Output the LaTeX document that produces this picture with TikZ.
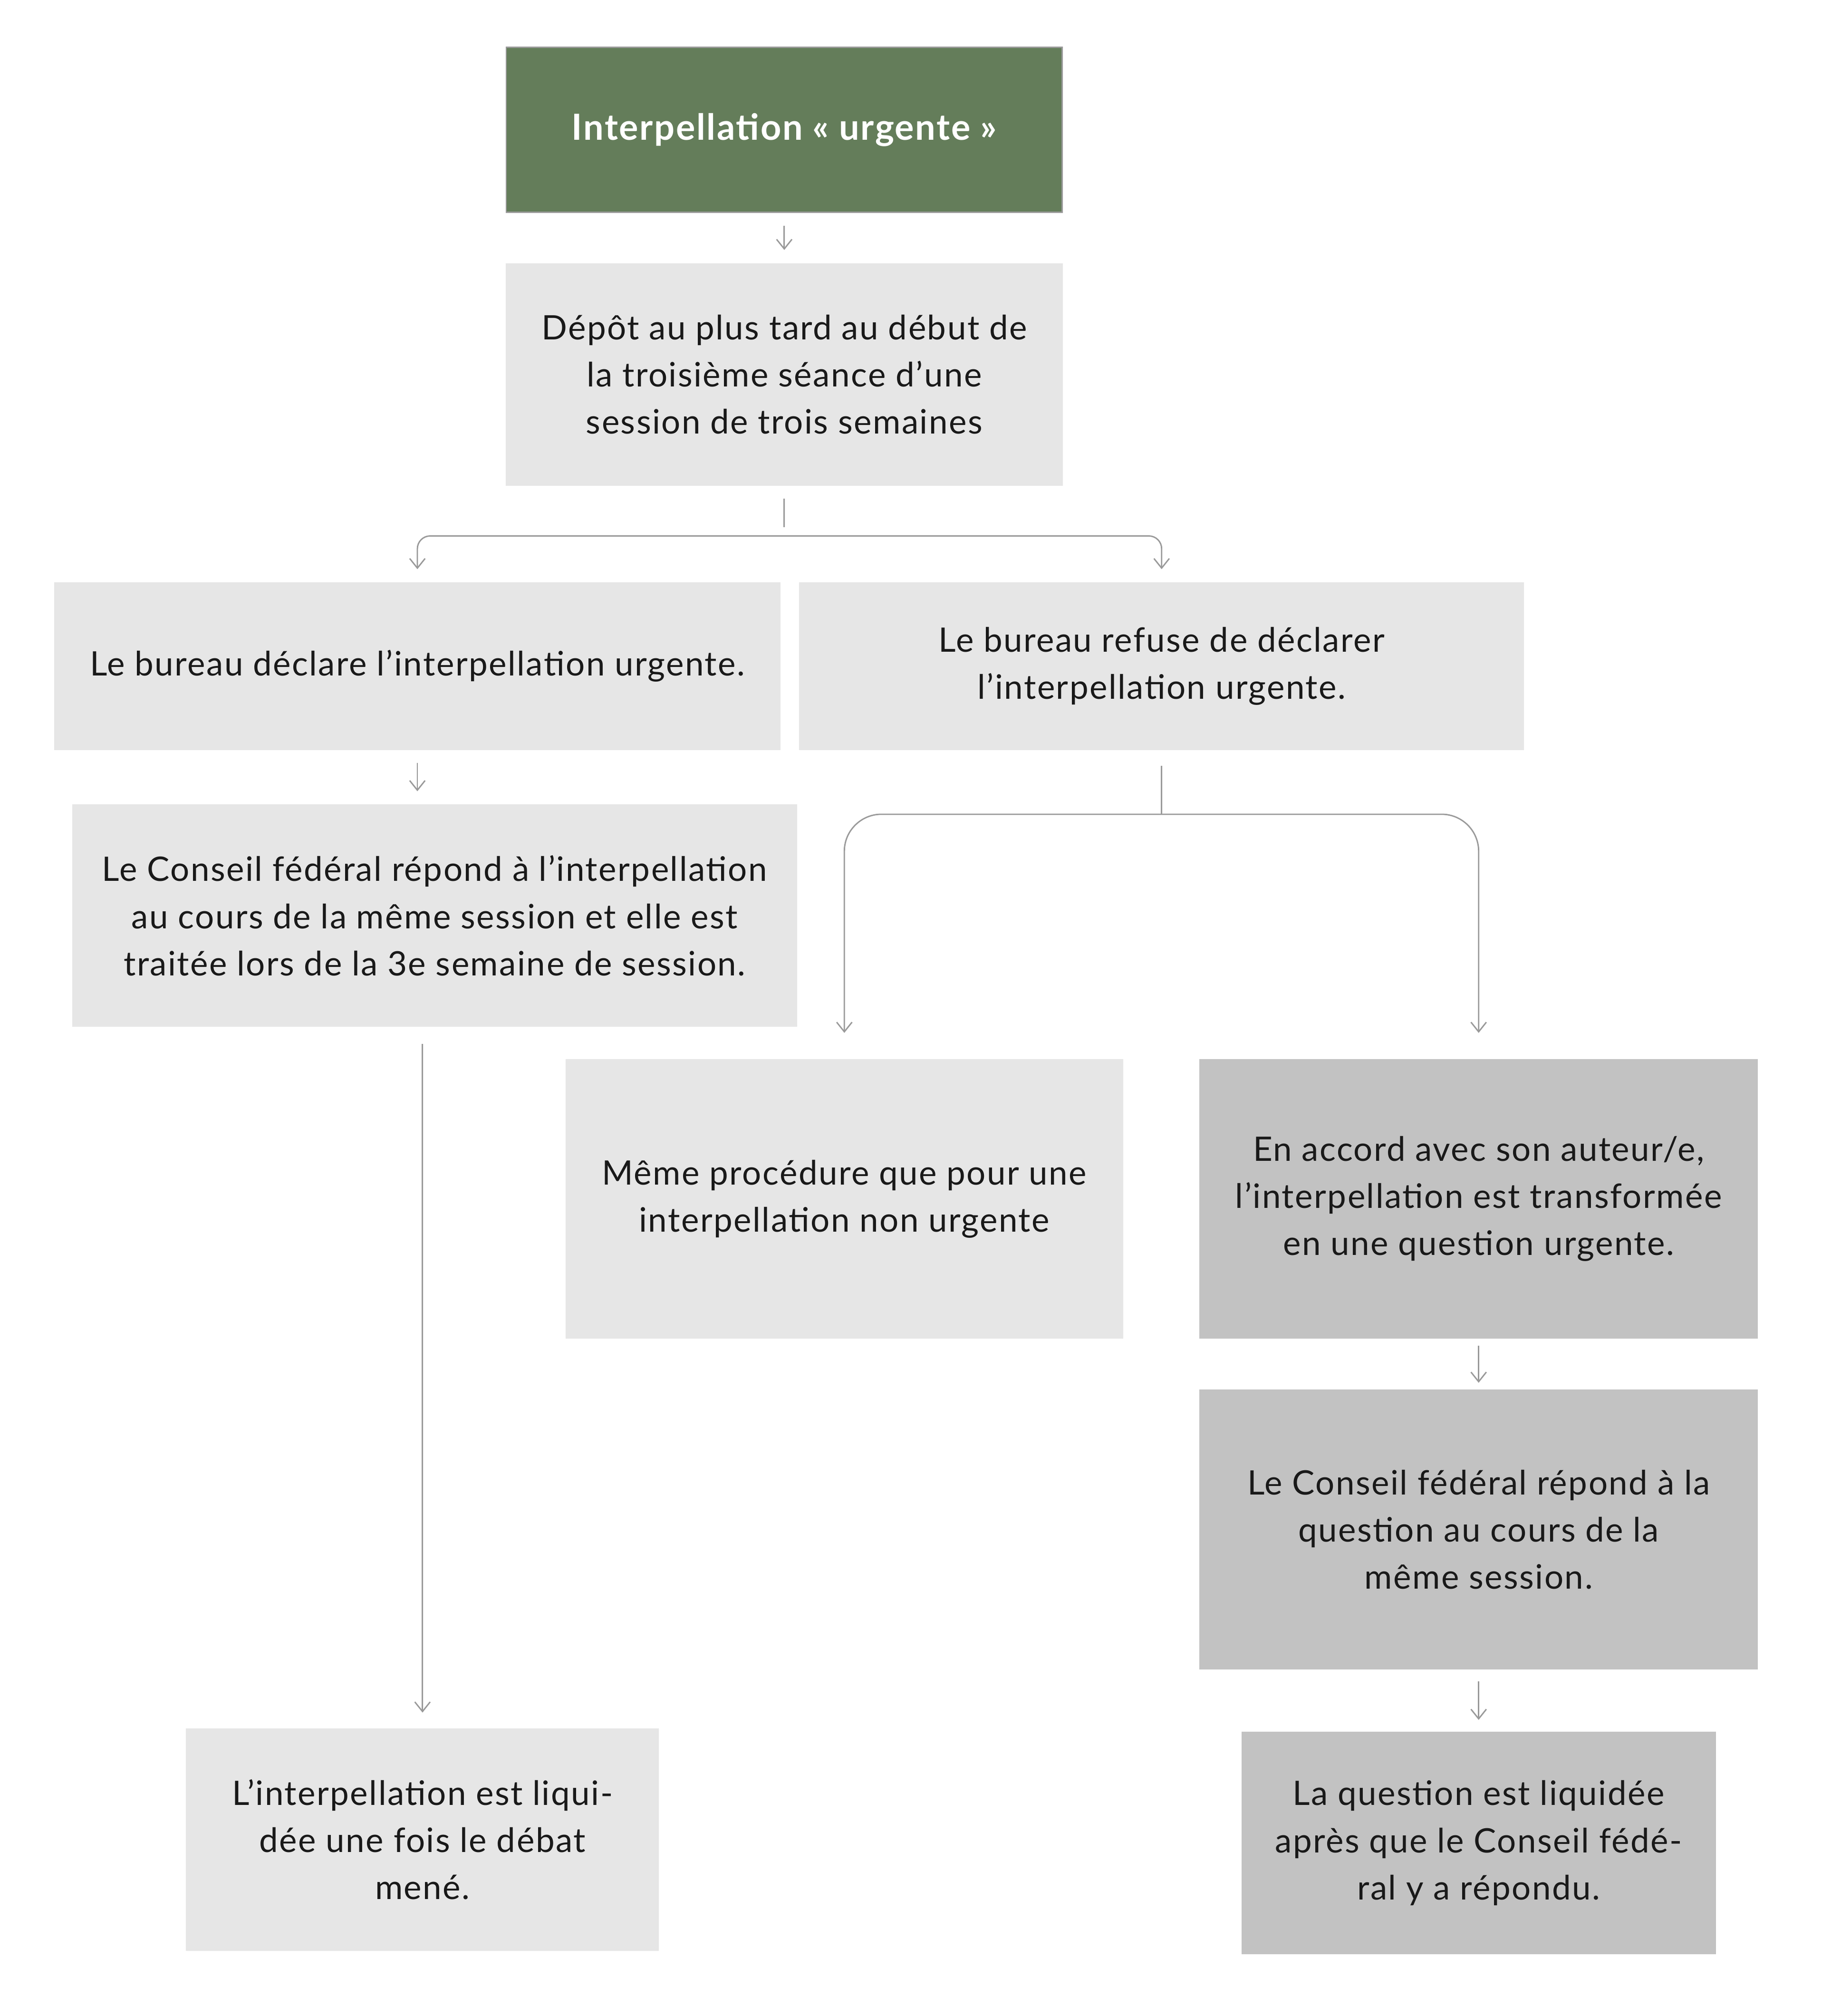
\documentclass[tikz,border=0pt]{standalone}
\usepackage{fontspec}
\setmainfont{Lato}[LetterSpace=3.5]
\usetikzlibrary{positioning,arrows.meta}
\definecolor{sage}{HTML}{647D5A}
\definecolor{pale}{HTML}{E6E6E6}
\definecolor{mid}{HTML}{C2C2C2}
\definecolor{wire}{HTML}{999999}

\begin{document}
\begin{tikzpicture}[node distance=1cm,
  box/.style={rectangle,fill=pale,inner sep=0pt,align=center,text=black!90,
    font=\fontsize{15}{21}\selectfont},
  dark/.style={box,fill=mid},
  head/.style={box,fill=sage,draw=wire,line width=0.6pt,text=white,
    font=\fontsize{16}{21}\selectfont\bfseries},
  conn/.style={draw=wire,line width=0.6pt},
  arr/.style={conn,-{Straight Barb[length=1.5mm,width=2.4mm]}}]
  \useasboundingbox (0,0) rectangle (28.8,-31.54);

  \node[head,minimum width=8.7cm,minimum height=2.58cm] (title) at (12.27,-2.03)
    {Interpellation «~urgente~»};
  \node[box,below=0.78cm of title,minimum width=8.72cm,minimum height=3.48cm] (depot)
    {Dépôt au plus tard au début de\\la troisième séance d’une\\session de trois semaines};
  \node[box,below=1.5cm of depot,xshift=-5.74cm,minimum width=11.36cm,minimum height=2.62cm] (decl)
    {Le bureau déclare l’interpellation urgente.};
  \node[box,right=0.28cm of decl,minimum width=11.34cm,minimum height=2.62cm] (refuse)
    {Le bureau refuse de déclarer\\l’interpellation urgente.};
  \node[box,below=0.84cm of decl,xshift=0.27cm,minimum width=11.34cm,minimum height=3.48cm] (conseilL)
    {Le Conseil fédéral répond à l’interpellation\\au cours de la même session et elle est\\traitée lors de la 3e semaine de session.};
  \node[box,below=10.96cm of conseilL,xshift=-0.19cm,minimum width=7.4cm,minimum height=3.48cm] (liqL)
    {L’interpellation est liqui-\\dée une fois le débat\\mené.};
  \node[dark,below=4.82cm of refuse,xshift=4.96cm,minimum width=8.74cm,minimum height=4.38cm] (accord)
    {En accord avec son auteur/e,\\l’interpellation est transformée\\en une question urgente.};
  \node[box,left=1.18cm of accord,minimum width=8.72cm,minimum height=4.38cm] (meme)
    {Même procédure que pour une\\interpellation non urgente};
  \node[dark,below=0.78cm of accord,minimum width=8.74cm,minimum height=4.38cm] (conseilR)
    {Le Conseil fédéral répond à la\\question au cours de la\\même session.};
  \node[dark,below=0.96cm of conseilR,minimum width=7.42cm,minimum height=3.48cm] (liqR)
    {La question est liquidée\\après que le Conseil fédé-\\ral y a répondu.};

  % first fork
  \coordinate[below=0.78cm of depot] (fork1);
  \coordinate[below=1.0cm of refuse] (fork2);

  \draw[arr,shorten <=0.2cm,shorten >=0.2cm] (title) -- (depot);
  \draw[conn,shorten <=0.2cm,shorten >=0.14cm] (depot) -- (fork1);
  \draw[arr,rounded corners=0.2cm,shorten >=0.2cm] (fork1) -| (decl.north);
  \draw[arr,rounded corners=0.2cm,shorten >=0.2cm] (fork1) -| (refuse.north);
  \draw[arr,shorten <=0.2cm,shorten >=0.2cm] (decl.south) -- (decl.south |- conseilL.north);

  % second fork
  \draw[conn,shorten <=0.24cm] (refuse) -- (fork2);
  \draw[arr,rounded corners=0.58cm,shorten >=0.4cm] (fork2) -| (meme.north);
  \draw[arr,rounded corners=0.58cm,shorten >=0.4cm] (fork2) -| (accord.north);

  \draw[arr,shorten <=0.26cm,shorten >=0.24cm] (liqL.north |- conseilL.south) -- (liqL.north);
  \draw[arr,shorten <=0.1cm,shorten >=0.1cm] (accord) -- (conseilR);
  \draw[arr,shorten <=0.18cm,shorten >=0.18cm] (conseilR) -- (liqR);
\end{tikzpicture}
\end{document}
